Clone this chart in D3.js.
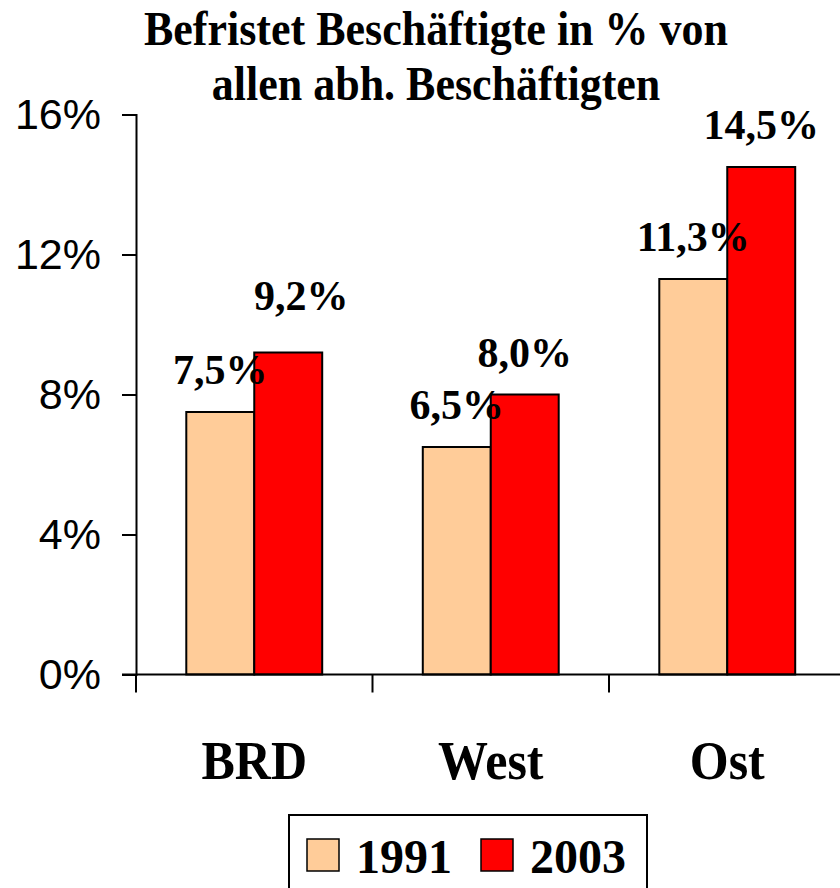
<!DOCTYPE html>
<html>
<head>
<meta charset="UTF-8" />
<title>Befristet Beschäftigte</title>
<script src="https://d3js.org/d3.v7.min.js"></script>
<style>
  body { margin: 0; background: #fff; }
  svg { display: block; }
</style>
</head>
<body>
<svg id="chart" width="840" height="888"></svg>
<script>
// data
const categories = ["BRD", "West", "Ost"]
const years = ["1991", "2003"]
const values1991 = [7.5, 6.5, 11.3]
const values2003 = [9.2, 8.0, 14.5]
const yTicks = [0, 4, 8, 12, 16]
const titleLines = ["Befristet Beschäftigte in % von", "allen abh. Beschäftigten"]

const colors = { "1991": "#FFCC99", "2003": "#FF0000" }
const serif = "'Liberation Serif', 'Times New Roman', serif"
const sans = "'Liberation Sans', Arial, sans-serif"

// the 9,2% label sits a bit off in the original
const labelNudge = { "BRD-2003": [13, -15] }

const rows = categories.map((c, i) => ({ cat: c, "1991": values1991[i], "2003": values2003[i] }))

const svg = d3.select("#chart")

const x = d3.scaleBand().domain(categories).range([136, 845.5]).padding(0)
const x1 = d3.scaleBand().domain(years).range([0, x.bandwidth()]).paddingInner(0).paddingOuter(0.74)
const y = d3.scaleLinear().domain([0, 16]).range([674.5, 114.5])

// title (glyphs look slightly stretched vertically in the original)
svg.append("g").selectAll("text").data(titleLines).join("text")
  .attr("transform", (d, i) => `translate(436,${45 + i * 55}) scale(1,1.1)`)
  .attr("text-anchor", "middle")
  .style("font-family", serif).style("font-weight", "bold").style("font-size", "44px")
  .text(d => d)

// bars
const groups = svg.append("g").selectAll("g").data(rows).join("g")
  .attr("transform", d => `translate(${x(d.cat)},0)`)

groups.selectAll("rect").data(d => years.map(yr => ({ cat: d.cat, yr: yr, v: d[yr] }))).join("rect")
  .attr("x", d => x1(d.yr))
  .attr("y", d => y(d.v))
  .attr("width", x1.bandwidth())
  .attr("height", d => y(0) - y(d.v))
  .attr("fill", d => colors[d.yr])
  .attr("stroke", "#000").attr("stroke-width", 2)

// y axis
const yAxis = d3.axisLeft(y).tickValues(yTicks).tickSize(14).tickPadding(21)
  .tickFormat(d => d + "%")
const yg = svg.append("g").attr("transform", "translate(136,0)").call(yAxis)
yg.select(".domain").attr("stroke", "#000").attr("stroke-width", 2)
yg.selectAll(".tick line").attr("stroke", "#000").attr("stroke-width", 2)
yg.selectAll(".tick text").style("font-family", sans).style("font-size", "43px").attr("fill", "#000")

// x axis
const xg = svg.append("g").attr("transform", `translate(0,${y(0)})`)
xg.append("line").attr("x1", 122).attr("x2", 840).attr("stroke", "#000").attr("stroke-width", 2)
xg.selectAll("line.tk").data(categories).join("line").attr("class", "tk")
  .attr("x1", d => x(d)).attr("x2", d => x(d)).attr("y1", 0).attr("y2", 18)
  .attr("stroke", "#000").attr("stroke-width", 2)
xg.selectAll("text").data(categories).join("text")
  .attr("transform", d => `translate(${x(d) + x.bandwidth() / 2},104) scale(1,1.08)`)
  .attr("text-anchor", "middle")
  .style("font-family", serif).style("font-weight", "bold").style("font-size", "50px")
  .text(d => d)

// value labels
groups.selectAll("text").data(d => years.map(yr => ({ cat: d.cat, yr: yr, v: d[yr] }))).join("text")
  .attr("x", d => x1(d.yr) + x1.bandwidth() / 2 + (labelNudge[d.cat + "-" + d.yr] || [0, 0])[0])
  .attr("y", d => y(d.v) - 28 + (labelNudge[d.cat + "-" + d.yr] || [0, 0])[1])
  .attr("text-anchor", "middle")
  .style("font-family", serif).style("font-weight", "bold").style("font-size", "42px")
  .text(d => d3.format(".1f")(d.v).replace(".", ",") + "%")

// legend
const lg = svg.append("g")
lg.append("rect").attr("x", 289).attr("y", 815).attr("width", 358).attr("height", 90)
  .attr("fill", "#fff").attr("stroke", "#000").attr("stroke-width", 2)
const legendX = [307, 481]
const items = lg.selectAll("g").data(years).join("g")
  .attr("transform", (d, i) => `translate(${legendX[i]},839)`)
items.append("rect").attr("width", 32).attr("height", 32)
  .attr("fill", d => colors[d]).attr("stroke", "#000").attr("stroke-width", 1.5)
items.append("text").attr("x", 49).attr("y", 34)
  .style("font-family", serif).style("font-weight", "bold").style("font-size", "48px")
  .text(d => d)
</script>
</body>
</html>
